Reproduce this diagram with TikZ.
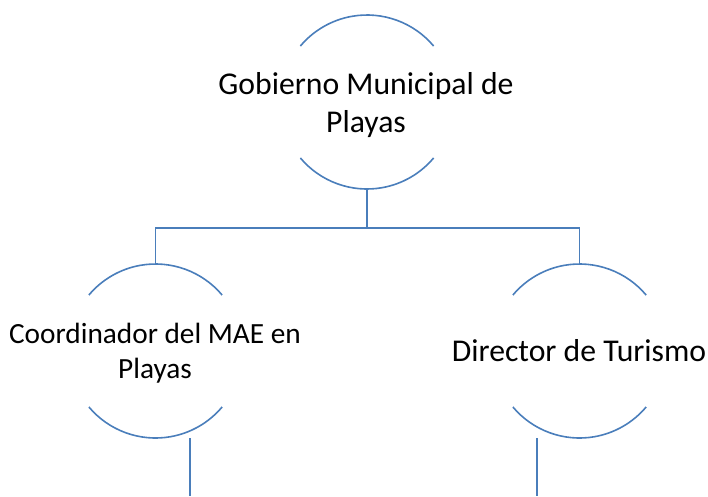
\documentclass[tikz,border=0pt]{standalone}
\usepackage{fontspec}
\setmainfont{Carlito}
\usetikzlibrary{calc}
\definecolor{lineblue}{RGB}{74,126,187}
\begin{document}
\begin{tikzpicture}[x=1pt,y=1pt,
  ring/.style={circle,minimum size=174pt,inner sep=0pt,draw=none},
  txt/.style={align=center,inner sep=0pt,text=black},
  bigtxt/.style={txt,font=\fontsize{31.7}{38.5}\selectfont},
  smalltxt/.style={txt,font=\fontsize{29.3}{35.5}\selectfont},
  conn/.style={draw=lineblue,line width=1.6pt},
  arcline/.style={draw=lineblue,line width=1.6pt}]
\useasboundingbox (0,0) rectangle (708,-496);
% rings (geometry)
\node[ring] (gob) at (367,-102) {};
\node[ring] (coord) at (155.5,-351) {};
\node[ring] (dir) at (579.5,-351) {};
% texts
\node[bigtxt] (gobt) at (366,-105) {Gobierno Municipal de\\Playas};
\node[smalltxt] (coordt) at (155,-353) {Coordinador del MAE en\\Playas};
\node[bigtxt] (dirt) at (579,-351) {Director de Turismo};
% arcs
\foreach \n in {gob,coord,dir}{
  \draw[arcline] ($(\n.center)+(40:87)$) arc (40:140:87);
  \draw[arcline] ($(\n.center)+(220:87)$) arc (220:320:87);
}
% connectors
\coordinate (bus) at (367,-228);
\draw[conn] (gob.south) -- (bus);
\draw[conn] (coord.north) -- (coord.north |- bus) -- (dir.north |- bus) -- (dir.north);
\coordinate (c1) at (190,-496);
\coordinate (c2) at (537,-496);
\draw[conn] (coord.south -| c1) -- (c1);
\draw[conn] (dir.south -| c2) -- (c2);
\end{tikzpicture}
\end{document}
